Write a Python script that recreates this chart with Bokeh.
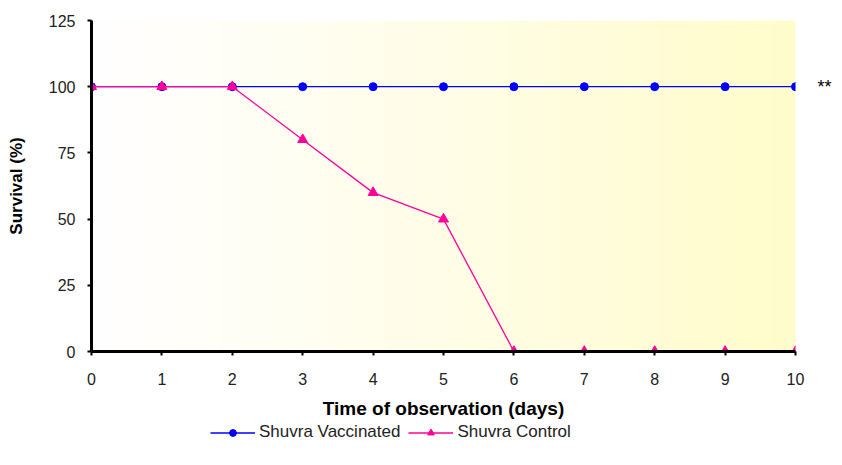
import numpy as np
from bokeh.plotting import figure
from bokeh.layouts import column
from bokeh.models import Range1d, Legend, LegendItem, FixedTicker, LinearAxis
from bokeh.embed import file_html
from bokeh.resources import INLINE

days = [0, 1, 2, 3, 4, 5, 6, 7, 8, 9, 10]
vaccinated = [100, 100, 100, 100, 100, 100, 100, 100, 100, 100, 100]
control = [100, 100, 100, 80, 60, 50, 0, 0, 0, 0, 0]
y_ticks = [0, 25, 50, 75, 100, 125]
significance = {100: "**"}
series_names = ["Shuvra Vaccinated", "Shuvra Control"]

FONT = "Liberation Sans"
BLUE = "#0000FF"
PINK = "#FF0099"

p = figure(frame_width=704, frame_height=331, output_backend="svg", toolbar_location=None,
           x_range=Range1d(0, 10), y_range=Range1d(0, 125),
           min_border_left=91, min_border_right=31, min_border_top=20, min_border_bottom=0)
p.outline_line_color = None
p.grid.visible = False
p.background_fill_color = "white"
p.border_fill_color = "white"

# gradient background (white -> pale yellow)
n = 200
t = np.linspace(0, 1, n)
img = np.zeros((1, n), dtype=np.uint32)
view = img.view(dtype=np.uint8).reshape((1, n, 4))
view[0, :, 0] = 255
view[0, :, 1] = (255 - 3 * t).astype(np.uint8)
view[0, :, 2] = (255 - 52 * t ** 1.1).astype(np.uint8)
view[0, :, 3] = 255
p.image_rgba(image=[img], x=0, y=0, dw=10, dh=125)

p.line(days, vaccinated, line_color=BLUE, line_width=1.3)
p.scatter(days, vaccinated, marker="circle", size=8, fill_color=BLUE, line_color=BLUE)
p.line(days, control, line_color=PINK, line_width=1.3)
p.scatter(days, control, marker="triangle", size=10, fill_color=PINK, line_color=PINK)

for ax in (p.xaxis[0], p.yaxis[0]):
    ax.axis_line_width = 3
    ax.axis_line_color = "black"
    ax.major_tick_line_width = 2
    ax.major_tick_line_color = "black"
    ax.major_tick_out = 4
    ax.major_tick_in = 0
    ax.minor_tick_line_color = None
    ax.major_label_text_font = FONT
    ax.major_label_text_font_size = "16px"
    ax.major_label_text_color = "#222222"
    ax.axis_label_text_font = FONT
    ax.axis_label_text_font_style = "bold"
    ax.axis_label_text_color = "black"

p.xaxis.ticker = FixedTicker(ticks=days)
p.yaxis.ticker = FixedTicker(ticks=y_ticks)
p.xaxis.axis_label = "Time of observation (days)"
p.yaxis.axis_label = "Survival (%)"
p.xaxis.axis_label_text_font_size = "19px"
p.yaxis.axis_label_text_font_size = "17px"
p.xaxis.major_label_standoff = 17
p.yaxis.major_label_standoff = 12
p.xaxis.axis_label_standoff = 10
p.yaxis.axis_label_standoff = 20

# significance marker as a right-side axis label
sig_axis = LinearAxis(ticker=FixedTicker(ticks=list(significance.keys())),
                      major_label_overrides=significance)
sig_axis.axis_line_color = None
sig_axis.major_tick_line_color = None
sig_axis.minor_tick_line_color = None
sig_axis.major_tick_out = 0
sig_axis.major_label_standoff = 22
sig_axis.major_label_text_font = FONT
sig_axis.major_label_text_font_size = "18px"
sig_axis.major_label_text_color = "black"
p.add_layout(sig_axis, "right")

# legend strip below the chart (key renderers hold the series but lie outside its view)
lg = figure(width=826, height=25, output_backend="svg", toolbar_location=None,
            x_axis_type=None, y_axis_type=None,
            x_range=Range1d(-100, -99), y_range=Range1d(-100, -99),
            min_border_left=0, min_border_right=0, min_border_top=0, min_border_bottom=0)
lg.outline_line_color = None
lg.grid.visible = False
kv_l = lg.line(days, vaccinated, line_color=BLUE, line_width=1.3)
kv_m = lg.scatter(days, vaccinated, marker="circle", size=8, fill_color=BLUE, line_color=BLUE)
kc_l = lg.line(days, control, line_color=PINK, line_width=1.3)
kc_m = lg.scatter(days, control, marker="triangle", size=10, fill_color=PINK, line_color=PINK)

legend = Legend(items=[LegendItem(label=series_names[0], renderers=[kv_l, kv_m]),
                       LegendItem(label=series_names[1], renderers=[kc_l, kc_m])],
                orientation="horizontal", location=(119, 4))
legend.border_line_color = None
legend.background_fill_alpha = 0
legend.label_text_font = FONT
legend.label_text_font_size = "17px"
legend.label_text_color = "#222222"
legend.glyph_width = 45
legend.glyph_height = 17
legend.label_height = 17
legend.label_standoff = 4
legend.spacing = 8
legend.padding = 0
legend.margin = 0
lg.add_layout(legend, "center")

layout = column(p, lg, spacing=0)
open("out.html", "w").write(file_html(layout, INLINE))
